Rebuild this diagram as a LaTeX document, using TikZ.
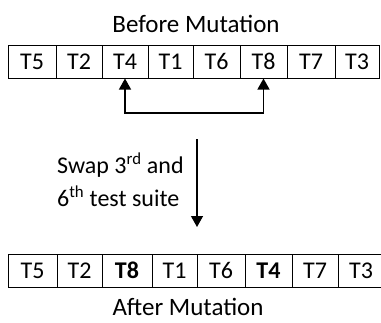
\documentclass[tikz,border=0pt]{standalone}
\usepackage{fontspec}
\setmainfont{Carlito}
\usetikzlibrary{arrows.meta}
\begin{document}
\begin{tikzpicture}[x=1pt,y=-1pt,
  cell/.style={draw=black, line width=1pt, minimum height=33pt, inner sep=0pt, font=\fontsize{24}{28}\selectfont},
  title/.style={inner sep=0pt, anchor=base, font=\fontsize{25}{30}\selectfont},
  arr/.style={line width=1.3pt, -{Triangle[width=12pt,length=11pt]}},
  darr/.style={line width=1.3pt, {Triangle[width=12pt,length=11pt]}-{Triangle[width=12pt,length=11pt]}}]
\useasboundingbox (0,0) rectangle (381,322);
\node[title] (before) at (196,32) {Before Mutation};
\foreach \l/\r/\t [count=\i] in {8/56/T5,56/102/T2,102/148/T4,148/193/T1,193/240/T6,240/287/T8,287/335/T7,335/379/T3}
  \node[cell, minimum width={(\r-\l)*1pt}] (a\i) at ({(\l+\r)/2},61.5) {\t};
\foreach \l/\r/\t [count=\i] in {8/57/T5,57/102/T2,102/152/\textbf{T8},152/197/T1,197/245/T6,245/292/\textbf{T4},292/338/T7,338/384/T3}
  \node[cell, minimum width={(\r-\l)*1pt}] (b\i) at ({(\l+\r)/2},270.5) {\t};
\coordinate (lo) at (194,113);
\draw[darr] (a3.south) -- (a3.south |- lo) -- (a6.south |- lo) -- (a6.south);
\coordinate (dtop) at (197,139);
\coordinate (dbot) at (197,227);
\draw[arr] (dtop) -- (dbot);
\node[anchor=north west, align=left, inner sep=0pt, font=\fontsize{24}{33}\selectfont] (swap) at (57,153)
  {Swap 3\textsuperscript{rd} and\\6\textsuperscript{th} test suite};
\node[title] (after) at (188,315) {After Mutation};
\end{tikzpicture}
\end{document}
